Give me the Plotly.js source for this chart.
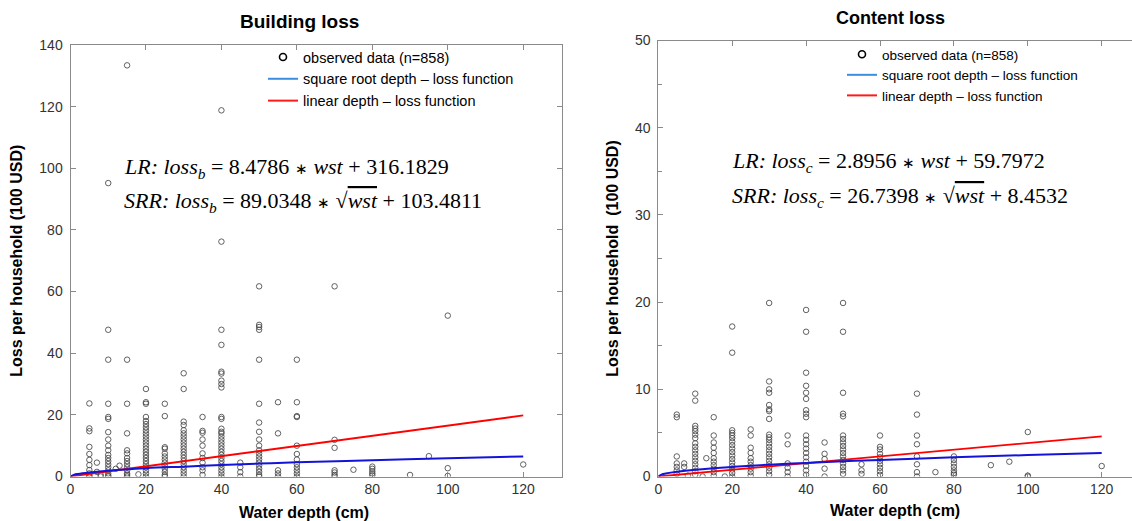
<!DOCTYPE html>
<html><head><meta charset="utf-8">
<script src="https://cdn.plot.ly/plotly-3.0.1.min.js"></script>
<style>html,body{margin:0;padding:0;background:#fff}#chart{width:1132px;height:521px}</style>
</head><body><div id="chart"></div>
<script>
// ---- Building loss: observed points, grouped by water depth (cm); loss in 100 USD ----
const buildingDepths = [5, 7, 8, 10, 12, 13, 15, 18, 20, 25, 30, 35, 40, 45, 50, 55, 60, 70, 75, 80, 90, 95, 100, 120];
const buildingLosses = [
  [23.7, 15.6, 14.7, 9.6, 7.3, 5.4, 3.7, 2.1, 1.0, 0.2, 0],
  [4.5, 1.5],
  [0.5, 0],
  [95.2, 47.6, 37.9, 23.6, 19.3, 18.7, 14.4, 12, 10, 8.5, 7, 6, 5, 4, 3, 2, 1, 0.3, 0],
  [2.5],
  [3.5],
  [133.4, 37.9, 23.6, 14, 8.5, 7.5, 6, 5, 4, 3, 2, 1, 0.5, 0],
  [0.7],
  [28.4, 24.1, 23.6, 19.3, 18, 17, 16, 15, 14, 13, 12, 11, 10, 9, 8, 7, 6, 5, 4, 3, 2, 1, 0],
  [23.6, 19.6, 9.5, 9, 7.5, 6.5, 5.5, 4.5, 3.5, 2.5, 1.5, 0.5, 0],
  [33.5, 28.4, 17.8, 16.7, 15, 14, 13, 12, 11, 10, 9, 8, 7, 6, 5, 4, 3, 2, 1, 0],
  [19.3, 14.8, 14.2, 12, 10, 7.5, 6, 4.5, 3, 2, 0.5],
  [118.8, 76.2, 47.6, 42.7, 34, 33.4, 31.1, 30, 28.9, 19.3, 18.7, 15.5, 14.5, 14, 13, 12, 11, 10, 9, 8, 7, 6, 5, 4, 3, 2, 1, 0],
  [4.5, 3, 1.4, 0],
  [61.7, 49.2, 48.5, 47.6, 37.9, 23.6, 17.5, 14.5, 12, 10, 8.5, 7.5, 6.5, 5.5, 4.5, 3.5, 2.5, 1.5, 0.5, 0],
  [24.1, 14, 2, 1, 0],
  [37.9, 24.1, 19.6, 19.3, 10, 7.3, 5.5, 4, 3, 2, 1, 0],
  [61.7, 11.9, 9.3, 2, 1.3, 0.5, 0],
  [2.2],
  [3.2, 2.5, 1.7, 1, 0.4],
  [0.5],
  [6.6],
  [52.2, 2.7, 0.2],
  [3.9]
];
// fitted curves as drawn (building)
const bLinearDepth = [0, 120];
const bLinearLoss  = [0, 19.8];
const bSqrtDepth = [0, 1, 2, 5, 10, 20, 30, 40, 50, 60, 80, 100, 120];
const bSqrtLoss  = [0, 0.6, 0.84, 1.3, 1.9, 2.7, 3.2, 3.7, 4.2, 4.6, 5.3, 5.9, 6.5];

// ---- Content loss ----
const contentDepths = [5, 7, 8, 10, 12, 13, 15, 18, 20, 25, 30, 35, 40, 45, 50, 55, 60, 70, 75, 80, 90, 95, 100, 120];
const contentLosses = [
  [7.1, 6.8, 2.3, 1.5, 1.1, 0.7, 0.3],
  [1.5, 1.1],
  [0.1],
  [9.5, 8.7, 5.8, 5.5, 5.2, 4.8, 4.4, 3.8, 3.4, 3, 2.6, 2.2, 1.8, 1.4, 1, 0.6, 0.2],
  [0],
  [2.1],
  [6.8, 4.7, 3.9, 3.3, 2.7, 2.1, 1.7, 1.3, 0.9, 0.5, 0.1],
  [0],
  [17.2, 14.2, 5.3, 5, 4.7, 4.4, 4, 3.6, 3.2, 2.8, 2.4, 2, 1.6, 1.2, 0.8, 0.4, 0],
  [5.4, 4.7, 3.3, 2.7, 2.1, 1.7, 1.3, 0.9, 0.5, 0.1],
  [19.9, 10.9, 10, 9.6, 8.2, 7.7, 7.5, 6.6, 4.8, 4.5, 4.2, 3.8, 3.4, 3, 2.6, 2.2, 1.8, 1.4, 1, 0.6, 0.2],
  [4.7, 3.7, 1.5, 1, 0.5, 0],
  [19.1, 16.6, 11.9, 10.4, 9.6, 8.9, 7.6, 7.2, 6.8, 4.7, 4.2, 3.7, 3.2, 2.7, 2.2, 1.7, 1.2, 0.7, 0.2],
  [3.9, 2.6, 2, 0.9, 0],
  [19.9, 16.6, 9.6, 7.2, 6.9, 4.7, 4.3, 3.9, 3.5, 3.1, 2.7, 2.3, 1.9, 1.5, 1.1, 0.7, 0.3],
  [1.4, 0.7, 0.3],
  [4.7, 3.4, 3.1, 2.6, 2.2, 1.8, 1.4, 1, 0.6, 0.2],
  [9.5, 7.1, 4.7, 3.7, 2.3, 1.4, 0.5, 0],
  [0.5],
  [2.3, 1.9, 1.5, 1.1, 0.7, 0.4, 0.2],
  [1.3],
  [1.7],
  [5.1, 0.1, 0],
  [1.2]
];
const cLinearDepth = [0, 120];
const cLinearLoss  = [0, 4.6];
const cSqrtDepth = [0, 1, 2, 5, 10, 20, 30, 40, 50, 60, 80, 100, 120];
const cSqrtLoss  = [0, 0.25, 0.35, 0.55, 0.78, 1.1, 1.35, 1.56, 1.74, 1.9, 2.2, 2.46, 2.7];

// labels
const legendLabels = ['observed data (n=858)', 'square root depth \u2013 loss function', 'linear depth \u2013 loss function'];
const xTicks = [0, 20, 40, 60, 80, 100, 120];

function flatten(depths, losses) {
  const x = [], y = [];
  depths.forEach((d, i) => losses[i].forEach(v => { x.push(d); y.push(v); }));
  return {x, y};
}
const b = flatten(buildingDepths, buildingLosses);
const c = flatten(contentDepths, contentLosses);

const W = 1132, H = 521;
const px = v => v / W, py = v => (H - v) / H;
const SANS = 'Arial, "Liberation Sans", sans-serif';
const SERIF = '"Liberation Serif", "Times New Roman", serif';
const ptMarker = {symbol: 'circle-open', size: 5.5, color: 'rgba(70,70,70,0.85)', line: {width: 1, color: 'rgba(70,70,70,0.85)'}};
const legMarker = {symbol: 'circle-open', size: 7, color: '#000', line: {width: 1.6, color: '#000'}};
const AST = '<span style="font-size:15px">\u2217</span>';

function panel(xa, ya, leg, pts, sqD, sqL, linD, linL) {
  return [
    {type: 'scatter', mode: 'markers', x: pts.x, y: pts.y, xaxis: xa, yaxis: ya, marker: ptMarker, showlegend: false, hoverinfo: 'x+y'},
    {type: 'scatter', mode: 'lines', x: linD, y: linL, xaxis: xa, yaxis: ya, line: {color: '#ff0000', width: 1.8}, showlegend: false},
    {type: 'scatter', mode: 'lines', x: sqD, y: sqL, xaxis: xa, yaxis: ya, line: {color: '#1414d8', width: 2, shape: 'spline'}, showlegend: false},
    // legend entries
    {type: 'scatter', mode: 'markers', x: [null], y: [null], xaxis: xa, yaxis: ya, marker: legMarker, name: legendLabels[0], legend: leg},
    {type: 'scatter', mode: 'lines', x: [null], y: [null], xaxis: xa, yaxis: ya, line: {color: '#3a8ee0', width: 2}, name: legendLabels[1], legend: leg},
    {type: 'scatter', mode: 'lines', x: [null], y: [null], xaxis: xa, yaxis: ya, line: {color: '#ff1a1a', width: 2}, name: legendLabels[2], legend: leg}
  ];
}

const data = [].concat(
  panel('x', 'y', 'legend', b, bSqrtDepth, bSqrtLoss, bLinearDepth, bLinearLoss),
  panel('x2', 'y2', 'legend2', c, cSqrtDepth, cSqrtLoss, cLinearDepth, cLinearLoss)
);

const axCommon = {
  showgrid: false, zeroline: false, showline: true, linecolor: '#8a8a8a', linewidth: 1,
  ticks: 'inside', ticklen: 5, tickcolor: '#8a8a8a', tickwidth: 1,
  tickfont: {family: SANS, size: 14, color: '#333'}, fixedrange: true
};
const titleFont = {family: SANS, size: 16, color: '#000', weight: 'bold'};

const layout = {
  width: W, height: H,
  margin: {l: 0, r: 0, t: 0, b: 0},
  paper_bgcolor: '#fff', plot_bgcolor: '#fff',
  showlegend: true,
  xaxis: Object.assign({}, axCommon, {domain: [px(70.5), px(561.7)], range: [0, 130.2], tickvals: xTicks, mirror: 'ticks', anchor: 'y'}),
  yaxis: Object.assign({}, axCommon, {domain: [py(476.5), py(45)], range: [0, 140], dtick: 20, mirror: 'ticks', anchor: 'x',
    ticklabelstandoff: 4,
    title: {text: 'Loss per household (100 USD)', font: titleFont, standoff: 12}}),
  xaxis2: Object.assign({}, axCommon, {domain: [px(658.3), 1], range: [0, 128.2], tickvals: xTicks, mirror: 'ticks', anchor: 'y2',
    title: {text: 'Water depth (cm)', font: titleFont, standoff: 8}}),
  yaxis2: Object.assign({}, axCommon, {domain: [py(476.5), py(40.5)], range: [0, 50], dtick: 10, mirror: false, anchor: 'x2',
    ticklabelstandoff: 4,
    minor: {dtick: 5, ticks: 'inside', ticklen: 4, tickcolor: '#8a8a8a'},
    title: {text: 'Loss per household  (100 USD)', font: titleFont, standoff: 12}}),
  legend: {x: px(263), y: py(41), xanchor: 'left', yanchor: 'top', bgcolor: 'rgba(0,0,0,0)', borderwidth: 0,
    font: {family: SANS, size: 14.5, color: '#000'}, tracegroupgap: 0, itemwidth: 30},
  legend2: {x: px(842), y: py(39), xanchor: 'left', yanchor: 'top', bgcolor: 'rgba(0,0,0,0)', borderwidth: 0,
    font: {family: SANS, size: 13.5, color: '#000'}, tracegroupgap: 0, itemwidth: 30},
  annotations: [
    {xref: 'paper', yref: 'paper', x: px(299), y: py(22), xanchor: 'center', yanchor: 'middle', showarrow: false,
      text: '<b>Building loss</b>', font: {family: SANS, size: 19, color: '#000'}},
    {xref: 'paper', yref: 'paper', x: px(890), y: py(18), xanchor: 'center', yanchor: 'middle', showarrow: false,
      text: '<b>Content loss</b>', font: {family: SANS, size: 18, color: '#000'}},
    {xref: 'paper', yref: 'paper', x: px(304), y: py(512), xanchor: 'center', yanchor: 'middle', showarrow: false,
      text: '<b>Water depth (cm)</b>', font: {family: SANS, size: 16, color: '#000'}},
    {xref: 'paper', yref: 'paper', x: px(122), y: py(168), xanchor: 'left', yanchor: 'middle', showarrow: false,
      text: '<i>LR: loss</i><sub><i>b</i></sub> = 8.4786 ' + AST + ' <i>wst</i> + 316.1829', font: {family: SERIF, size: 22, color: '#000'}},
    {xref: 'paper', yref: 'paper', x: px(122), y: py(202), xanchor: 'left', yanchor: 'middle', showarrow: false,
      text: '<i>SRR: loss</i><sub><i>b</i></sub> = 89.0348 ' + AST + ' \u221A<span style="text-decoration:overline"><i>wst</i></span> + 103.4811', font: {family: SERIF, size: 22, color: '#000'}},
    {xref: 'paper', yref: 'paper', x: px(730), y: py(162), xanchor: 'left', yanchor: 'middle', showarrow: false,
      text: '<i>LR: loss</i><sub><i>c</i></sub> = 2.8956 ' + AST + ' <i>wst</i> + 59.7972', font: {family: SERIF, size: 22, color: '#000'}},
    {xref: 'paper', yref: 'paper', x: px(730), y: py(197), xanchor: 'left', yanchor: 'middle', showarrow: false,
      text: '<i>SRR: loss</i><sub><i>c</i></sub> = 26.7398 ' + AST + ' \u221A<span style="text-decoration:overline"><i>wst</i></span> + 8.4532', font: {family: SERIF, size: 22, color: '#000'}}
  ]
};

Plotly.newPlot('chart', data, layout, {staticPlot: true, displayModeBar: false});
</script>
</body></html>
